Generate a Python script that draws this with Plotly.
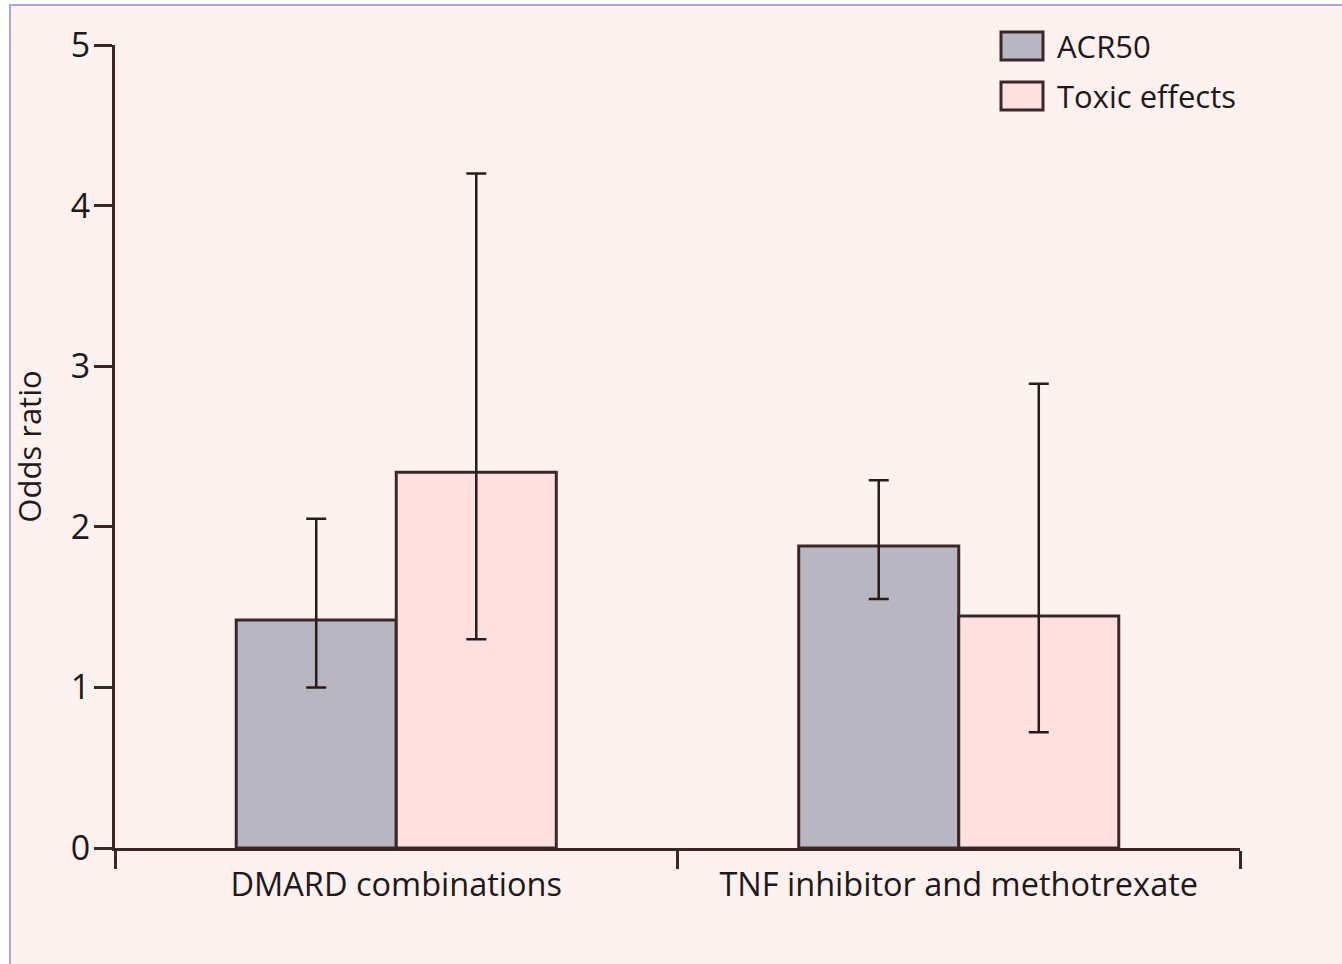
import plotly.graph_objects as go

categories = ["DMARD combinations", "TNF inhibitor and methotrexate"]
series_names = ["ACR50", "Toxic effects"]
acr50 = [1.42, 1.88]
acr50_hi = [2.05, 2.29]
acr50_lo = [1.00, 1.55]
toxic = [2.34, 1.445]
toxic_hi = [4.20, 2.89]
toxic_lo = [1.30, 0.72]
y_ticks = [0, 1, 2, 3, 4, 5]

FONT = "Open Sans"
TXT = "#221818"
LINE = "#3a2828"
COLORS = ["#b8b6c1", "#fde0df"]
BG = "#fdf2ef"

W, H = 1342, 964
ML, MR, MT, MB = 115, 102, 45, 116
PW, PH = W - ML - MR, H - MT - MB


def px2x(px):
    return (px - ML) / PW


def py2y(py):
    return (H - MB - py) / PH


fig = go.Figure()
for name, vals, hi, lo, col in [
    (series_names[0], acr50, acr50_hi, acr50_lo, COLORS[0]),
    (series_names[1], toxic, toxic_hi, toxic_lo, COLORS[1]),
]:
    fig.add_trace(go.Bar(
        x=categories, y=vals, name=name, showlegend=False,
        marker=dict(color=col, line=dict(color=LINE, width=3)),
        error_y=dict(type="data", symmetric=False,
                     array=[h - v for h, v in zip(hi, vals)],
                     arrayminus=[v - l for v, l in zip(vals, lo)],
                     color="#2a1a1a", thickness=2.5, width=10),
    ))

shapes = [dict(type="rect", xref="paper", yref="paper", layer="below",
               x0=px2x(10), x1=px2x(W + 20), y0=py2y(H + 20), y1=py2y(5),
               fillcolor=BG, line=dict(color="#a7a9df", width=2))]
annotations = []
sw_centers = [46, 96]
for name, col, cy in zip(series_names, COLORS, sw_centers):
    shapes.append(dict(type="rect", xref="paper", yref="paper",
                       x0=px2x(1001), x1=px2x(1043), y0=py2y(cy + 14), y1=py2y(cy - 14),
                       fillcolor=col, line=dict(color=LINE, width=3)))
    annotations.append(dict(xref="paper", yref="paper", x=px2x(1055), y=py2y(cy),
                            xanchor="left", yanchor="middle", showarrow=False,
                            text=name, font=dict(family=FONT, size=31, color=TXT)))

fig.update_layout(
    width=W, height=H,
    margin=dict(l=ML, r=MR, t=MT, b=MB),
    paper_bgcolor="white", plot_bgcolor="rgba(0,0,0,0)",
    barmode="group", bargap=0.431, bargroupgap=0,
    font=dict(family=FONT, size=31, color=TXT),
    shapes=shapes, annotations=annotations,
    xaxis=dict(range=[-0.5, 1.5], showline=True, linecolor=LINE, linewidth=3,
               ticks="outside", tickson="boundaries", ticklen=18, tickwidth=3,
               tickcolor=LINE, showgrid=False, zeroline=False, ticklabelstandoff=6,
               tickfont=dict(family=FONT, size=32.5, color=TXT)),
    yaxis=dict(range=[0, 5], tickvals=y_ticks, showline=True, linecolor=LINE,
               linewidth=3, ticks="outside", ticklen=18, tickwidth=3, tickcolor=LINE,
               showgrid=False, zeroline=False, ticklabelstandoff=-3,
               tickfont=dict(family=FONT, size=34, color=TXT),
               title=dict(text="Odds ratio", standoff=20,
                          font=dict(family=FONT, size=31, color=TXT))),
)

fig.write_html("out.html")
